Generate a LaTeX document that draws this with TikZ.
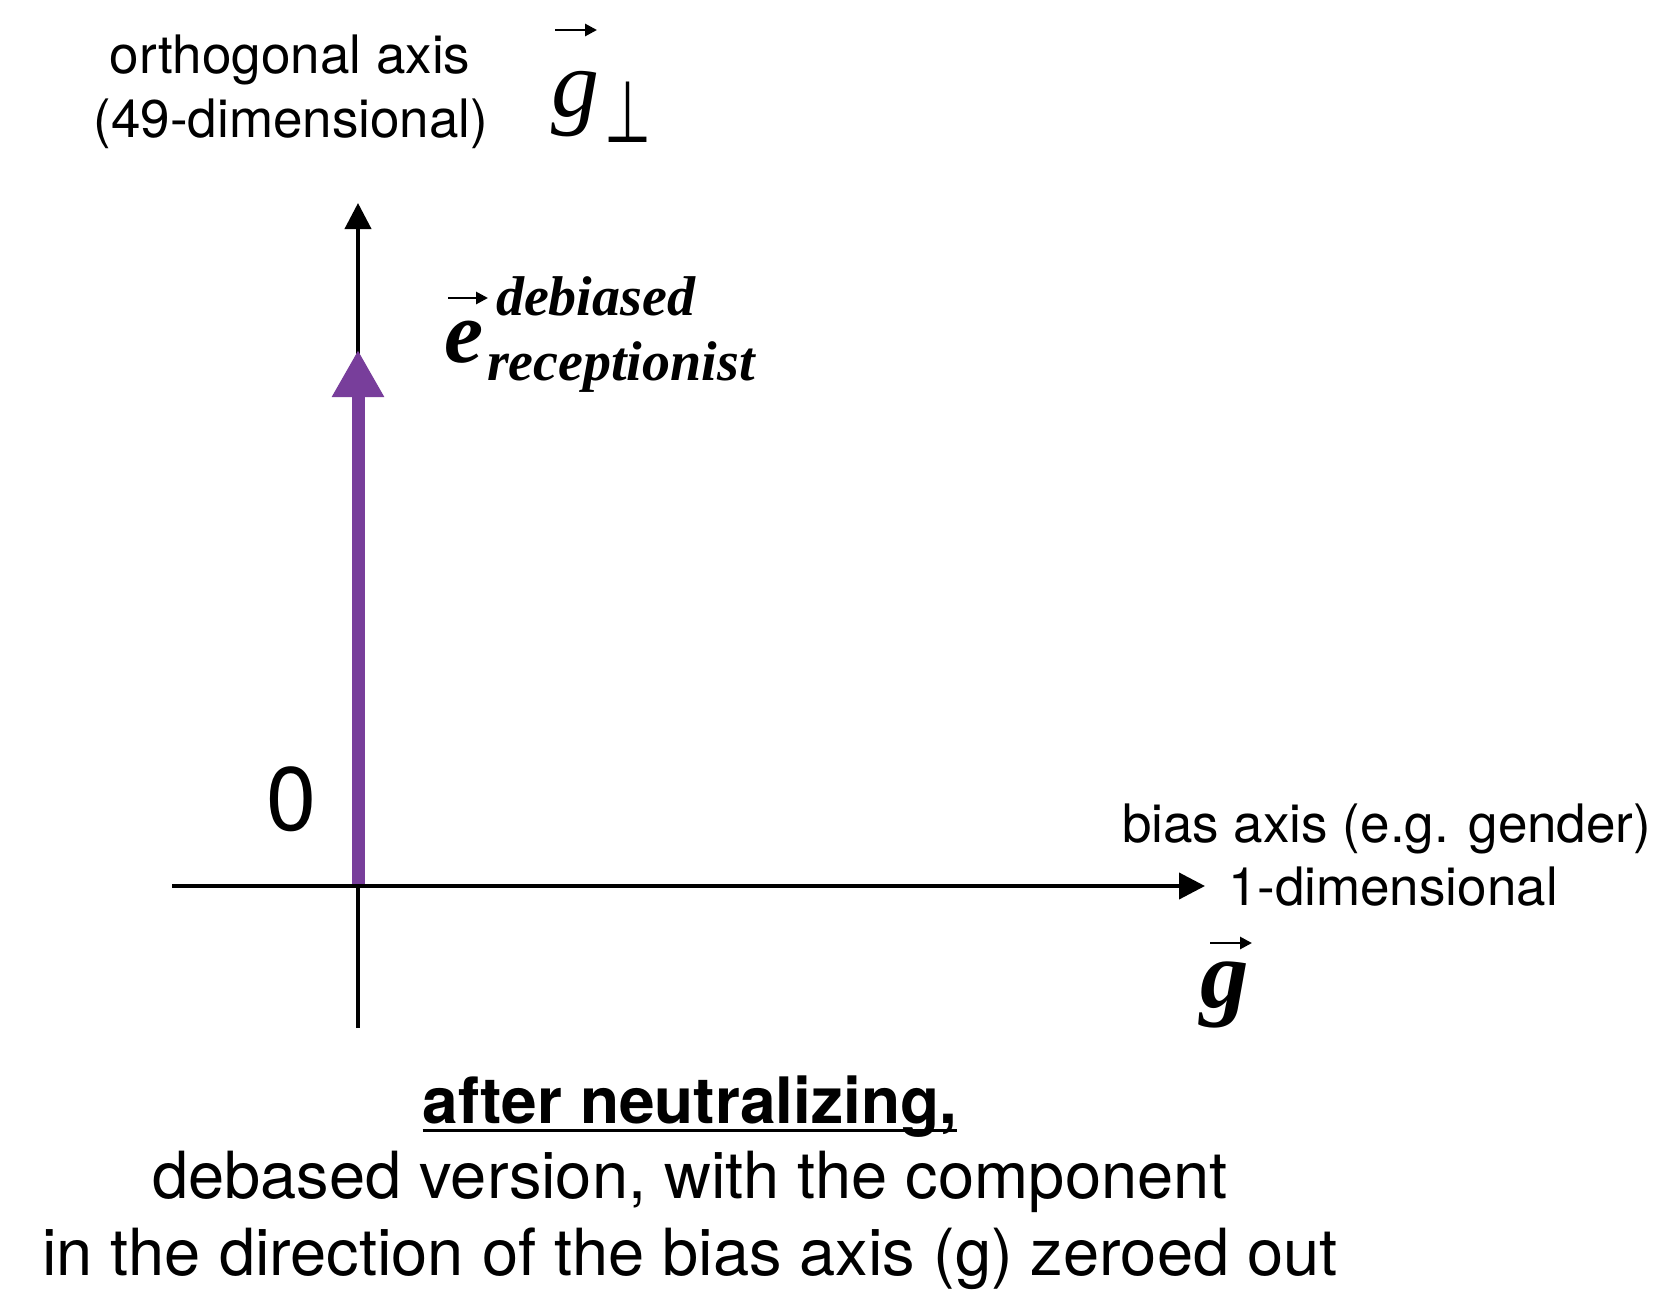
\documentclass[tikz,border=0pt]{standalone}
\usepackage{fontspec}
\setmainfont{TeX Gyre Heros}
\newfontfamily\tms{Liberation Serif}
\newfontfamily\djv{DejaVu Sans}
\usetikzlibrary{arrows.meta,calc}
\definecolor{vecpurple}{RGB}{120,62,155}

\begin{document}
\begin{tikzpicture}[x=0.5pt,y=-0.5pt,
  every node/.style={inner sep=0pt, outer sep=0pt},
  lbl/.style={font=\fontsize{26.5}{32}\selectfont},
  caption/.style={font=\fontsize{32.5}{39}\selectfont},
  vecsym/.style={font=\fontsize{48}{56}\selectfont\tms\itshape},
  vecsymbold/.style={font=\fontsize{48.5}{56}\selectfont\tms\bfseries\itshape},
  scriptlbl/.style={font=\fontsize{28}{33}\selectfont\tms\bfseries\itshape},
  axisline/.style={line width=2pt, -{Triangle[length=13pt,width=13pt]}},
  accent/.style={line width=1.4pt, -{Triangle[length=6pt,width=6pt]}},
  embvec/.style={draw=vecpurple, line width=6.5pt, -{Triangle[length=23.5pt,width=24.5pt]}}
]
% page frame
\useasboundingbox (0,0) rectangle (1666,1290);

% axis end points
\coordinate (O)    at (358,886);
\coordinate (ytop) at (358,203);
\coordinate (ybot) at (358,1028);
\coordinate (xl)   at (172,886);
\coordinate (xr)   at (1205,886);
\coordinate (etip) at (358,350);

% orthogonal axis
\draw[axisline] (ybot) -- (ytop);
% debiased embedding along the orthogonal axis
\draw[embvec] (O) -- (etip);
% bias axis
\draw[axisline] (xl) -- (xr);

% origin label
\node[font=\fontsize{45}{54}\selectfont, anchor=center] (zero) at (292,799) {0};

% orthogonal axis labels
\node[lbl, anchor=base] (orth1) at (290,73) {orthogonal axis};
\node[lbl, anchor=base] (orth2) at (291,137) {(49-dimensional)};
\node[vecsym, anchor=base west] (gp) at (551,116) {g};
\node[font=\fontsize{27}{32}\selectfont\djv, anchor=base west] (perp) at (604,142) {\scalebox{1}[1.6]{⊥}};
\draw[accent] ($(gp.base west)+(4,-86)$) -- ($(gp.base west)+(46,-86)$);

% embedding label
\node[font=\fontsize{44}{50}\selectfont\tms\bfseries\itshape, anchor=base west] (e) at (444,362) {e};
\draw[accent] ($(e.base west)+(4,-64)$) -- ($(e.base west)+(44,-64)$);
\node[scriptlbl, anchor=base west] (sup) at (496,315) {debiased};
\node[scriptlbl, anchor=base west] (sub) at (487,380) {receptionist};

% bias axis labels
\node[lbl, anchor=base west] (bias1) at (1122,842) {bias axis (e.g. gender)};
\node[lbl, anchor=base west] (bias2) at (1228,905) {1-dimensional};
\node[vecsymbold, anchor=base west] (g) at (1200,1007) {g};
\draw[accent] ($(g.base west)+(10,-64)$) -- ($(g.base west)+(52,-64)$);

% caption
\node[font=\fontsize{32}{38}\selectfont\bfseries, anchor=base] (title) at (690,1123) {after neutralizing,};
\draw[line width=1.5pt] ($(title.base west)+(0,7)$) -- ($(title.base east)+(0,7)$);
\node[caption, anchor=base] (cap1) at (690,1198) {debased version, with the component};
\node[caption, anchor=base] (cap2) at (690,1275) {in the direction of the bias axis (g) zeroed out};
\end{tikzpicture}
\end{document}
